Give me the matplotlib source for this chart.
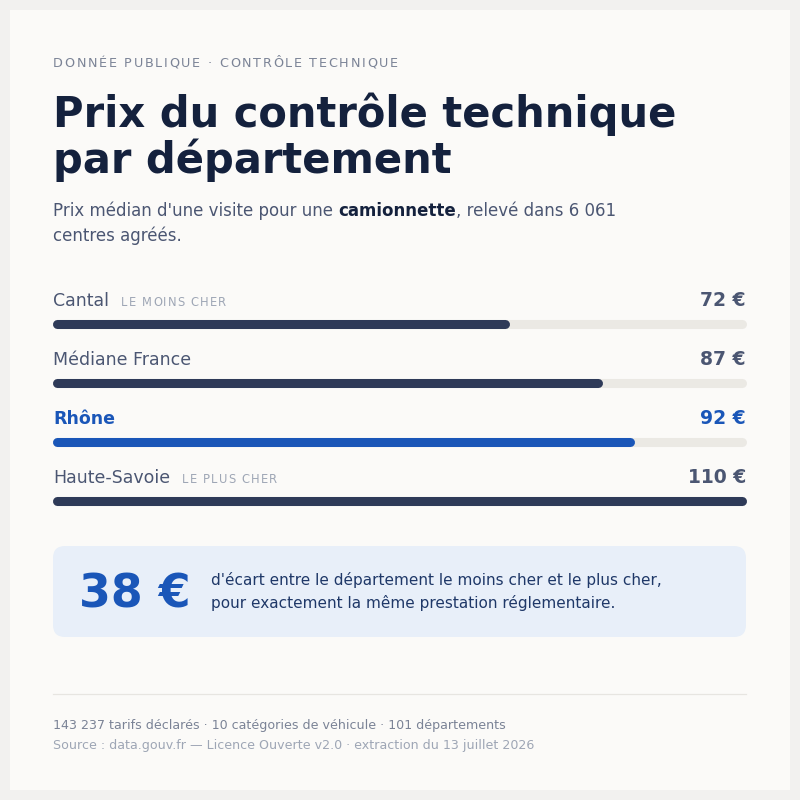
import matplotlib
matplotlib.use("Agg")
import matplotlib.pyplot as plt
from matplotlib.patches import FancyBboxPatch, Rectangle

plt.rcParams['font.family'] = ['DejaVu Sans']

# data
names = ["Cantal", "Médiane France", "Rhône", "Haute-Savoie"]
prices = [72, 87, 92, 110]
tags = ["LE MOINS CHER", "", "", "LE PLUS CHER"]
highlight = [False, False, True, False]
price_max = 110
gap_value = "38 €"

kicker = "DONNÉE PUBLIQUE · CONTRÔLE TECHNIQUE"
title = ["Prix du contrôle technique", "par département"]
sub_parts = [("Prix médian d'une visite pour une ", "normal"),
             ("camionnette", "bold"),
             (", relevé dans 6 061", "normal")]
sub_line2 = "centres agréés."
callout = ["d'écart entre le département le moins cher et le plus cher,",
           "pour exactement la même prestation réglementaire."]
foot1 = "143 237 tarifs déclarés · 10 catégories de véhicule · 101 départements"
foot2 = "Source : data.gouv.fr — Licence Ouverte v2.0 · extraction du 13 juillet 2026"

# colours
BG = "#f2f1ef"
CARD = "#fbfaf8"
NAVY = "#14213d"
SLATE = "#4b5672"
MUTED = "#7b8396"
LIGHT = "#9ea6b5"
BAR = "#2e3a58"
TRACK = "#ebe9e4"
BLUE = "#1a56b8"
BOXBG = "#e8eff9"

fig = plt.figure(figsize=(8, 8), dpi=100, facecolor=BG)
ax = fig.add_axes([0, 0, 1, 1])
ax.set_xlim(0, 800)
ax.set_ylim(800, 0)
ax.axis("off")

ax.add_patch(Rectangle((10, 10), 780, 780, facecolor=CARD, edgecolor="none"))

fig.canvas.draw()
renderer = fig.canvas.get_renderer()


def width_px(t):
    bb = t.get_window_extent(renderer=renderer)
    return bb.width


def spaced(x, y, s, spacing, **kw):
    for ch in s:
        t = ax.text(x, y, ch, va="baseline", ha="left", **kw)
        x += width_px(t) + spacing
    return x


# header
spaced(53, 67, kicker, 1.72, fontsize=9.2, color=MUTED)
ax.text(53, 127, title[0], fontsize=30, fontweight="bold", color=NAVY, va="baseline")
ax.text(53, 173, title[1], fontsize=30, fontweight="bold", color=NAVY, va="baseline")

x = 53
for part, w in sub_parts:
    t = ax.text(x, 216, part, fontsize=12, fontweight=w,
                color=NAVY if w == "bold" else SLATE, va="baseline")
    x += width_px(t)
ax.text(53, 241, sub_line2, fontsize=12, color=SLATE, va="baseline")

# bars: separate axes so round caps stay inside 53..746 px
cap = 4.5
bax = fig.add_axes([(53 + cap) / 800, 0, (693 - 2 * cap) / 800, 1])
bax.set_xlim(0, price_max)
bax.set_ylim(800, 0)
bax.axis("off")

row0, step = 324, 59
for i, (name, price, tag, hl) in enumerate(zip(names, prices, tags, highlight)):
    yb = row0 + i * step
    col = BLUE if hl else BAR
    bax.plot([0, price_max], [yb, yb], color=TRACK, lw=6.5,
             solid_capstyle="round", clip_on=False)
    bax.plot([0, price], [yb, yb], color=col, lw=6.5,
             solid_capstyle="round", clip_on=False)

    ty = yb - 18
    lab = ax.text(53, ty, name, fontsize=12.5,
                  fontweight="bold" if hl else "normal",
                  color=BLUE if hl else SLATE, va="baseline")
    if tag:
        spaced(53 + width_px(lab) + 12, ty, tag, 1.2, fontsize=8.3, color=LIGHT)
    ax.text(746, ty, f"{price} €", fontsize=13.5, fontweight="bold",
            color=BLUE if hl else SLATE, ha="right", va="baseline")

# callout box
ax.add_patch(FancyBboxPatch((53 + 12, 546 + 12), 693 - 24, 91 - 24,
                            boxstyle="round,pad=12", facecolor=BOXBG, edgecolor="none"))
ax.text(79, 608, gap_value, fontsize=33, fontweight="bold", color=BLUE, va="baseline")
ax.text(211, 585, callout[0], fontsize=11, color="#1f3868", va="baseline")
ax.text(211, 608, callout[1], fontsize=11, color="#1f3868", va="baseline")

# footer
ax.plot([53, 746], [694, 694], color="#e7e5e1", lw=0.9)
ax.text(53, 729, foot1, fontsize=9.1, color=MUTED, va="baseline")
ax.text(53, 749, foot2, fontsize=9.1, color=LIGHT, va="baseline")

fig.savefig("out.png", dpi=100, facecolor=BG)
